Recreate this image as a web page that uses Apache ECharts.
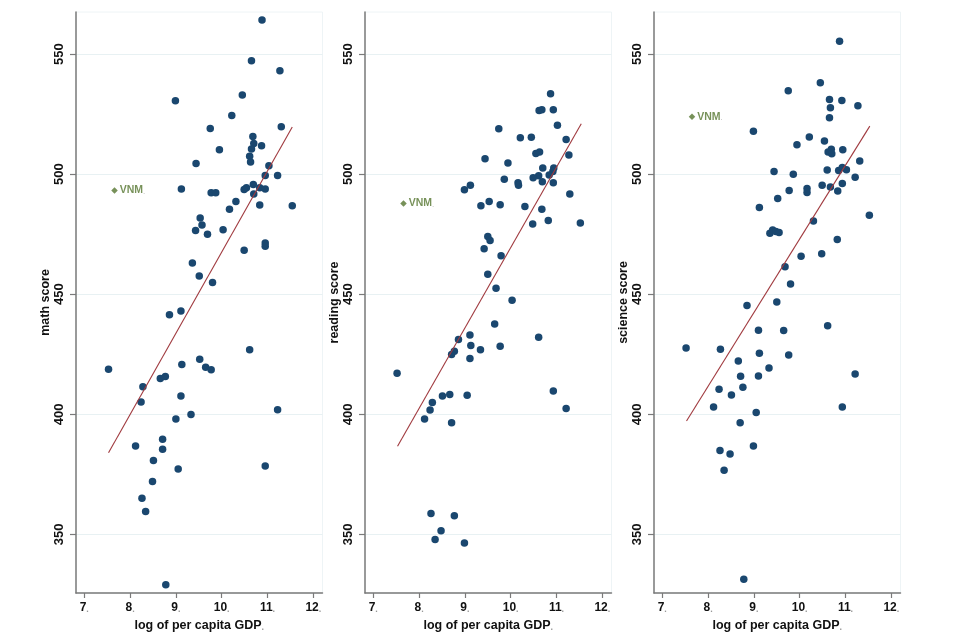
<!DOCTYPE html>
<html>
<head>
<meta charset="utf-8">
<script src="https://cdn.jsdelivr.net/npm/echarts@6/dist/echarts.min.js"></script>
<style>
html,body{margin:0;padding:0;background:#fff;}
#chart{width:974px;height:637px;}
</style>
</head>
<body>
<div id="chart"></div>
<script>
// ---- data ----
const xTicks = [7, 8, 9, 10, 11, 12];
const yTicks = [350, 400, 450, 500, 550];
const xTitle = 'log of per capita GDP';
const yTitles = ['math score', 'reading score', 'science score'];

const mathX = [10.88,10.65,11.27,8.99,10.45,10.22,9.75,11.30,10.68,10.70,10.87,10.65,9.95,10.61,10.63,9.44,11.03,10.95,11.22,9.12,10.69,10.54,10.49,10.83,10.95,9.77,9.87,10.70,10.31,10.17,10.83,11.54,9.53,9.57,9.43,9.69,10.03,10.49,10.95,10.95,9.36,9.51,9.80,8.86,9.11,7.53,8.28,8.24,8.66,8.77,9.13,9.52,9.65,9.77,10.61,9.11,9.00,9.33,11.22,8.12,8.71,8.71,8.51,9.05,10.95,8.49,8.26,8.34,8.78];
const mathY = [564.2,547.2,543,530.5,532.9,524.4,519,519.7,515.7,512.8,511.8,510.5,510.1,507.4,505,504.4,503.5,499.4,499.4,493.8,495.7,494.3,493.6,494.3,493.8,492.2,492.2,491.7,488.6,485.4,487.1,486.8,481.7,478.8,476.5,475,476.8,468.3,471.3,470,463,457.6,454.9,441.4,443,418.8,411.5,405.1,414.9,415.7,420.7,422.9,419.6,418.6,426.9,407.6,398,399.9,401.9,386.8,389.6,385.5,380.8,377.2,378.5,372,365,359.5,329];

const readX = [10.87,10.62,10.68,10.93,11.02,9.74,10.21,10.45,11.21,10.55,10.63,11.27,9.44,9.94,10.70,10.94,10.92,10.84,10.61,10.49,9.86,10.16,10.17,10.69,10.93,9.12,8.99,11.29,9.53,9.35,9.77,10.31,10.68,10.82,10.48,11.52,9.50,9.55,9.42,9.79,9.50,9.68,10.03,9.65,9.11,9.13,8.86,9.77,9.34,10.61,8.77,8.71,9.11,7.52,8.51,8.67,9.05,8.29,8.24,8.12,8.71,10.93,11.21,8.26,8.77,8.48,8.35,8.99];
const readY = [533.5,526.5,526.8,526.8,520.3,518.9,515.1,515.3,514.4,508.6,509.2,508,506.4,504.6,502.5,502.5,501.1,499.6,499.3,498.5,497.9,496.4,495.4,496.8,496.4,495.4,493.5,491.7,488.6,486.8,487.2,486.5,485.4,480.7,479.2,479.7,474,472.4,468.9,466,458.3,452.5,447.5,437.6,433,428.6,431.1,428.3,426.9,432.1,426.25,424.9,423.2,417.1,407.6,408.2,407.9,404.9,401.8,398,396.5,409.7,402.4,358.75,357.8,351.5,347.9,346.4];

const sciX = [10.87,10.45,9.75,10.65,10.92,11.27,10.67,10.65,8.99,10.21,10.54,9.94,10.69,10.94,10.62,10.70,11.31,9.44,10.60,10.85,10.93,11.02,9.86,11.21,10.49,10.67,10.93,10.83,9.77,10.16,10.16,9.52,9.12,11.52,10.30,9.35,9.41,9.48,9.55,10.82,10.48,10.03,9.68,9.80,8.85,9.50,10.61,9.10,9.65,7.52,8.27,9.12,9.76,8.66,9.33,8.71,9.10,11.21,8.76,8.24,8.51,8.12,9.05,10.93,8.70,8.99,8.26,8.48,8.35,8.78];
const sciY = [555.3,538,534.7,531.1,530.7,528.5,527.6,523.5,517.9,515.5,513.75,512.2,510.4,510.1,509.2,508.5,505.5,501.1,501.7,501.5,502.8,501.8,499.9,498.75,495.4,494.6,496.1,493,493.2,494,492.4,489.9,486.1,482.9,480.5,475.4,476.7,476.1,475.7,472.8,466.8,465.8,461.4,454.3,445.3,446.8,436.9,435,434.9,427.6,427.1,425.4,424.7,422.2,419.3,415.8,416,416.8,411.25,410.4,408,403,400.8,403,396.5,386.8,384.9,383.5,376.7,331.3];

// Vietnam (highlighted) : log GDP and scores
const vnmLabel = 'VNM';
const vnmX = [7.66, 7.66, 7.65];
const vnmY = [493.2, 487.8, 523.9];

// fitted line end points per panel
const fitX = [[7.53, 11.54], [7.53, 11.54], [7.53, 11.53]];
const fitY = [[384, 519.6], [386.7, 521], [397.2, 520]];

// ---- chart ----
const zip = (a, b) => a.map((v, i) => [v, b[i]]);
const panelsX = [mathX, readX, sciX];
const panelsY = [mathY, readY, sciY];

const NAVY = '#1a476f', GREEN = '#55752f', MAROON = '#a03a3f';
const FONT = 'Liberation Sans';
const gridLefts = [76, 365, 654];
const grids = gridLefts.map(l => ({
  left: l, top: 12, width: 246.5, height: 581,
  show: true, borderColor: '#eef4f6', borderWidth: 1, backgroundColor: 'transparent'
}));

const xAxes = grids.map((g, i) => ({
  gridIndex: i, type: 'value', min: 6.82, max: 12.2,
  name: '{n|' + xTitle + '}{d|.}', nameLocation: 'middle', nameGap: 25,
  nameTextStyle: { fontFamily: FONT, fontWeight: 'bold', fontSize: 12.5, color: '#111',
    rich: { n: { fontFamily: FONT, fontWeight: 'bold', fontSize: 12.5, color: '#111' },
            d: { fontFamily: FONT, fontSize: 9, color: '#999', verticalAlign: 'bottom' } } },
  axisLine: { show: true, onZero: false, lineStyle: { color: '#7a7a7a', width: 1.5 } },
  axisTick: { show: true, length: 5, customValues: xTicks, lineStyle: { color: '#7a7a7a', width: 1.2 } },
  axisLabel: { customValues: xTicks, margin: 9, fontFamily: FONT, fontWeight: 'bold',
    fontSize: 12, color: '#111', formatter: v => '{n|' + v + '}{d|.}',
    rich: { n: { fontFamily: FONT, fontWeight: 'bold', fontSize: 12, color: '#111' },
            d: { fontFamily: FONT, fontSize: 9, color: '#999', verticalAlign: 'bottom' } } },
  splitLine: { show: false }
}));

const yAxes = grids.map((g, i) => ({
  gridIndex: i, type: 'value', min: 325.6, max: 567.5,
  name: yTitles[i], nameLocation: 'middle', nameGap: 23, nameRotate: 90,
  nameTextStyle: { fontFamily: FONT, fontWeight: 'bold', fontSize: 12.5, color: '#111' },
  axisLine: { show: true, onZero: false, lineStyle: { color: '#7a7a7a', width: 1.5 } },
  axisTick: { show: true, length: 6, customValues: yTicks, lineStyle: { color: '#7a7a7a', width: 1.2 } },
  axisLabel: { customValues: yTicks, rotate: 90, margin: 10, fontFamily: FONT,
    fontWeight: 'bold', fontSize: 13, color: '#111' },
  splitLine: { show: true, lineStyle: { color: '#e8f1f3', width: 1 } }
}));

const series = [];
for (let i = 0; i < 3; i++) {
  series.push({
    type: 'scatter', xAxisIndex: i, yAxisIndex: i,
    data: zip(panelsX[i], panelsY[i]),
    symbol: 'circle', symbolSize: 7.5,
    itemStyle: { color: NAVY, opacity: 1 },
    z: 3
  });
  series.push({
    type: 'line', xAxisIndex: i, yAxisIndex: i,
    data: zip(fitX[i], fitY[i]),
    symbol: 'none', lineStyle: { color: MAROON, width: 1.1 },
    z: 4
  });
  series.push({
    type: 'scatter', xAxisIndex: i, yAxisIndex: i,
    data: [[vnmX[i], vnmY[i]]],
    symbol: 'diamond', symbolSize: 6.5,
    itemStyle: { color: GREEN },
    label: { show: true, position: 'right', distance: 2,
      formatter: '{n|' + vnmLabel + '}{d|.}',
      rich: { n: { fontFamily: FONT, fontWeight: 'bold', fontSize: 10.5, color: GREEN },
              d: { fontFamily: FONT, fontSize: 8, color: '#9a9a9a', verticalAlign: 'bottom' } } },
    z: 5
  });
}

const chart = echarts.init(document.getElementById('chart'), null, { renderer: 'canvas' });
chart.setOption({
  animation: false,
  backgroundColor: '#ffffff',
  grid: grids, xAxis: xAxes, yAxis: yAxes, series: series
});
</script>
</body>
</html>
